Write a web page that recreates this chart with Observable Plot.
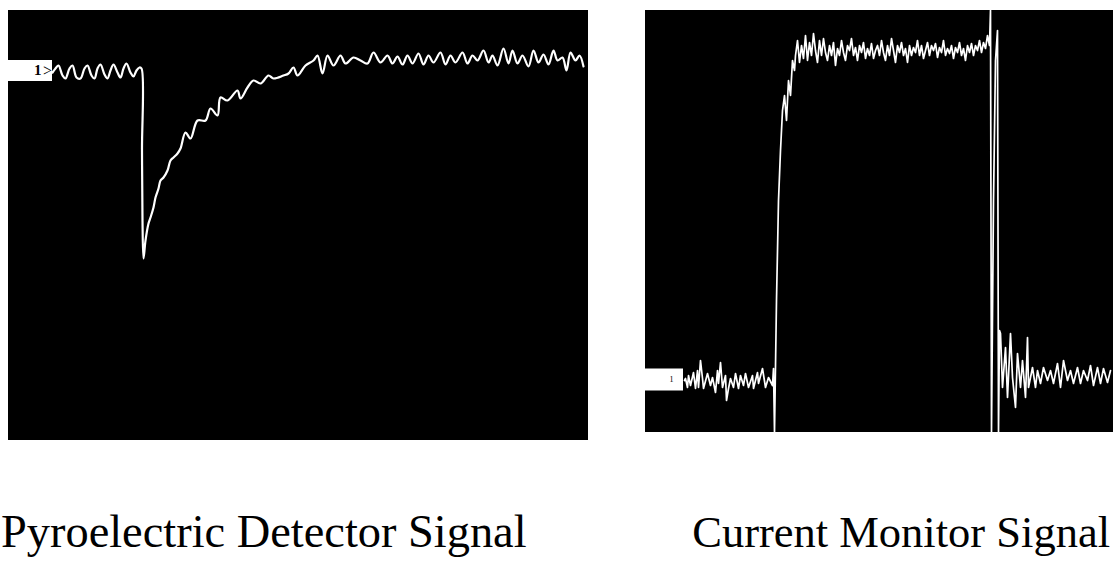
<!DOCTYPE html>
<html>
<head>
<meta charset="utf-8">
<script src="https://cdn.jsdelivr.net/npm/d3@7"></script>
<script src="https://cdn.jsdelivr.net/npm/@observablehq/plot@0.6"></script>
<style>
  html, body { margin: 0; padding: 0; background: #fff; }
  #wrap { position: relative; width: 1119px; height: 571px; overflow: hidden; background: #fff; }
  .panel { position: absolute; }
  .title { position: absolute; font-family: "Liberation Serif", "Times New Roman", serif; line-height: 1; color: #000; white-space: nowrap; }
</style>
</head>
<body>
<div id="wrap">
  <div id="left" class="panel" style="left:8px; top:10px;"></div>
  <div id="right" class="panel" style="left:645px; top:10px;"></div>
  <div id="t1" class="title" style="left:1px; top:509px; font-size:46.4px;"></div>
  <div id="t2" class="title" style="right:9px; top:510px; font-size:44.5px;"></div>
</div>
<script>
// ---- Data (sweep time units, signal units) ----
const titles = ["Pyroelectric Detector Signal", "Current Monitor Signal"];

const leftTime = [44,47,50,54,57,61,64,68,72,76,79,83,86,89,92,96,99,102,105,109,112,115,118,122,125,128,131,133,
  133.5,134,135,137,140,142,145,147,150,152,155,159,162,165,169,172,177,182,189,197,202,209,212,219,229,232,239,245,252,260,265,275,280,285,289,297,305,309,314,319,325,332,337,345,352,359,365,372,379,
  384,389,394,399,404,410,415,420,425,432,437,442,447,454,459,464,469,475,480,484,489,495,500,504,509,514,520,525,530,535,540,545,549,554,558,562,567,571,575];
const leftVolt = [368,372,375,365,362,372,375,363,362,372,375,365,362,372,376,366,362,370,376,368,363,372,377,368,364,370,373,372,
  290,220,182,200,217,223,233,243,252,260,263,270,280,283,287,292,308,302,320,320,332,325,343,340,350,342,353,360,357,365,362,365,367,373,365,375,380,385,367,385,375,385,377,383,380,377,388,378,385,
  377,384,376,385,377,387,376,385,378,388,376,385,378,388,377,385,380,390,378,385,375,392,377,390,377,385,374,390,378,386,376,390,380,383,370,388,380,385,374];

const rightTime = [39,40,42,43,45,48,50,52,53,55,57,58,62,65,67,70,72,73,75,77,80,81,83,85,88,90,93,95,98,100,103,107,108,112,113,117,120,123,127,128,
  129,131,133,135,137,139,141,143,145,147,149,
  150,152,154,156,158,160,162,164,166,168,170,172,174,176,178,180,182,184,186,188,190,192,194,196,198,200,202,204,206,208,210,212,214,216,218,220,222,224,226,228,230,232,234,236,238,240,242,244,246,248,250,252,254,256,258,260,262,264,266,268,270,272,274,276,278,280,282,284,286,288,290,292,294,296,298,300,302,304,306,308,310,312,314,316,318,320,322,324,326,328,330,332,334,336,338,340,342,344,
  345,346,348,350,352,353,354,
  355,357,360,362,365,367,370,372,375,377,380,382,383,387,390,392,395,398,402,405,408,412,415,418,422,425,428,432,435,438,442,445,448,452,455,458,462,465];
const rightVolt = [52,54,45,57,47,60,44,62,45,72,54,44,59,47,55,40,62,49,70,45,57,32,44,54,45,59,44,57,47,59,45,57,44,60,49,64,45,55,47,64,
  0,132,232,282,322,337,312,352,337,372,362,
  377,392,370,387,374,397,372,390,377,399,382,370,392,377,394,380,372,387,377,390,367,384,377,392,380,372,387,382,394,377,385,372,387,380,390,374,384,377,389,374,382,387,377,392,380,372,387,377,394,382,370,387,380,390,377,384,370,387,377,385,380,392,377,387,374,382,390,377,387,382,389,375,385,380,392,377,384,379,387,374,385,380,390,377,384,372,387,380,389,377,387,382,392,380,390,384,397,387,
  422,0,232,372,402,0,102,
  99,45,85,35,99,55,25,79,45,72,35,95,45,65,45,62,49,65,52,62,49,69,45,72,52,62,49,65,49,62,52,67,47,65,49,64,50,62];

// Channel-1 ground reference markers
const leftMarker = {label: "1", level: 370, end: 44};
const rightMarker = {label: "1", level: 53, end: 38};

const leftData = leftTime.map((t, i) => ({t, v: leftVolt[i]}));
const rightData = rightTime.map((t, i) => ({t, v: rightVolt[i]}));

const left = Plot.plot({
  width: 580, height: 430, margin: 0,
  x: {domain: [0, 580], axis: null},
  y: {domain: [0, 430], axis: null},
  style: {background: "black"},
  marks: [
    Plot.ruleY([leftMarker], {y: "level", x1: 0, x2: "end", stroke: "white", strokeWidth: 21}),
    Plot.text([leftMarker], {y: "level", x: d => d.end - 11, text: "label", fill: "black", fontSize: 15, fontWeight: "bold", fontFamily: "Liberation Serif", textAnchor: "end"}),
    Plot.text([leftMarker], {y: "level", x: d => d.end - 5, text: () => ">", fill: "black", fontSize: 16, fontFamily: "Liberation Serif"}),
    Plot.line(leftData, {x: "t", y: "v", stroke: "white", strokeWidth: 2.2, strokeLinejoin: "round", curve: "catmull-rom"})
  ]
});
document.getElementById("left").appendChild(left);

const right = Plot.plot({
  width: 468, height: 422, margin: 0,
  x: {domain: [0, 468], axis: null},
  y: {domain: [0, 422], axis: null},
  style: {background: "black"},
  marks: [
    Plot.ruleY([rightMarker], {y: "level", x1: 0, x2: "end", stroke: "white", strokeWidth: 22}),
    Plot.text([rightMarker], {y: "level", x: d => d.end - 12, text: "label", fill: "black", fontSize: 8, fontFamily: "Liberation Serif"}),
    Plot.line(rightData, {x: "t", y: "v", stroke: "white", strokeWidth: 1.7, strokeLinejoin: "round"})
  ]
});
document.getElementById("right").appendChild(right);

document.getElementById("t1").textContent = titles[0];
document.getElementById("t2").textContent = titles[1];
</script>
</body>
</html>
